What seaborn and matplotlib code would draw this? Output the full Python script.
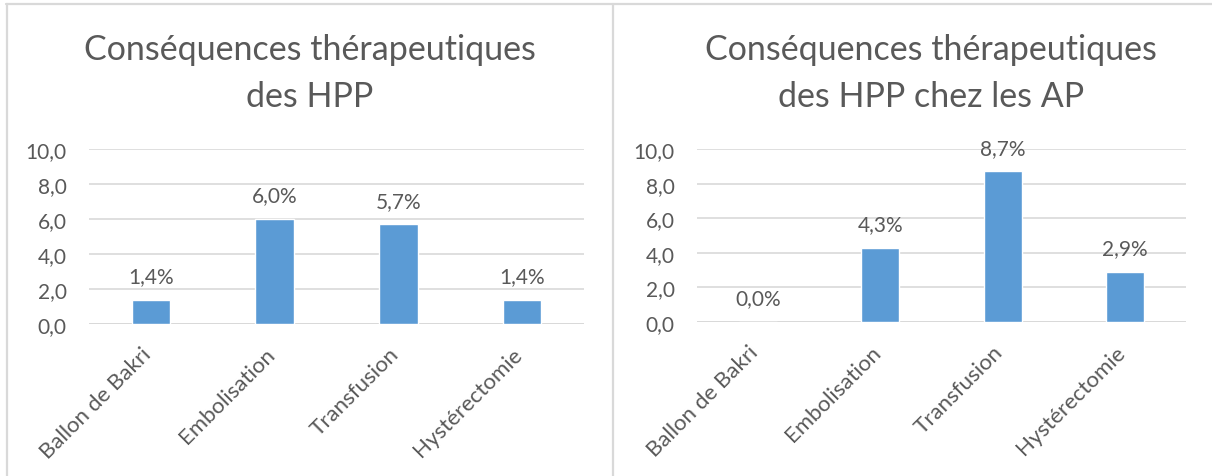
import pandas as pd
import matplotlib.pyplot as plt
import matplotlib.transforms as mtransforms
import seaborn as sns
from matplotlib.lines import Line2D
from matplotlib.ticker import FuncFormatter

# Données
categories = ['Ballon de Bakri', 'Embolisation', 'Transfusion', 'Hystérectomie']
valeurs_hpp = [1.4, 6.0, 5.7, 1.4]
valeurs_ap = [0.0, 4.3, 8.7, 2.9]
titre_hpp = 'Conséquences thérapeutiques\ndes HPP'
titre_ap = 'Conséquences thérapeutiques\ndes HPP chez les AP'
yticks = [0, 2, 4, 6, 8, 10]

sns.set_theme(style='white')
plt.rcParams['font.family'] = ['Lato', 'DejaVu Sans']

gris_texte = '#595959'
gris_grille = '#D9D9D9'
bleu = '#5B9BD5'

fig = plt.figure(figsize=(12.12, 4.77), dpi=100)

# Cadres gris (style Excel)
fig.add_artist(Line2D([6 / 1212, 1], [1 - 5 / 477, 1 - 5 / 477], color=gris_grille, lw=1.6))
fig.add_artist(Line2D([6.5 / 1212, 6.5 / 1212], [0, 1 - 5 / 477], color=gris_grille, lw=1.6))
fig.add_artist(Line2D([612.5 / 1212, 612.5 / 1212], [0, 1 - 5 / 477], color=gris_grille, lw=1.6))

ax1 = fig.add_axes([89 / 1212, 1 - 325 / 477, 495 / 1212, 175 / 477])
ax2 = fig.add_axes([697 / 1212, 1 - 323 / 477, 489 / 1212, 173 / 477])

# petit décalage vers la gauche des étiquettes inclinées
decalage = mtransforms.ScaledTranslation(-10 / 100, 0, fig.dpi_scale_trans)


def dessiner(ax, valeurs, titre, xc):
    df = pd.DataFrame({'Conséquence': categories, 'Pourcentage': valeurs})
    sns.barplot(data=df, x='Conséquence', y='Pourcentage', color=bleu,
                width=0.31, saturation=1, ax=ax)
    ax.set_ylim(0, 10)
    ax.set_yticks(yticks)
    ax.yaxis.set_major_formatter(FuncFormatter(lambda v, p: f'{v:.1f}'.replace('.', ',')))
    ax.yaxis.grid(True, color=gris_grille, lw=1.2)
    ax.set_axisbelow(True)
    for s in ax.spines.values():
        s.set_visible(False)
    ax.axhline(0, color=gris_grille, lw=1.4, zorder=0.5)
    ax.set_xlabel('')
    ax.set_ylabel('')
    ax.tick_params(axis='y', length=0, pad=16, labelsize=15, labelcolor=gris_texte)
    ax.tick_params(axis='x', length=0, pad=14, labelsize=16, labelcolor=gris_texte)
    for lab in ax.get_xticklabels():
        lab.set_rotation(45)
        lab.set_ha('right')
        lab.set_va('top')
        lab.set_rotation_mode('anchor')
        lab.set_transform(lab.get_transform() + decalage)
    # étiquettes de données
    for i, v in enumerate(valeurs):
        ax.annotate(f'{v:.1f}%'.replace('.', ','), (i, v), xytext=(0, 17),
                    textcoords='offset points', ha='center', va='center',
                    fontsize=15, color=gris_texte)
    lignes = titre.split('\n')
    fig.text(xc / 1212, 1 - 60 / 477, lignes[0], ha='center', va='baseline',
             fontsize=24.5, color=gris_texte)
    fig.text(xc / 1212, 1 - 107 / 477, lignes[1], ha='center', va='baseline',
             fontsize=24.5, color=gris_texte)


dessiner(ax1, valeurs_hpp, titre_hpp, 310)
dessiner(ax2, valeurs_ap, titre_ap, 931)

fig.savefig('out.png', dpi=100, facecolor='white')
